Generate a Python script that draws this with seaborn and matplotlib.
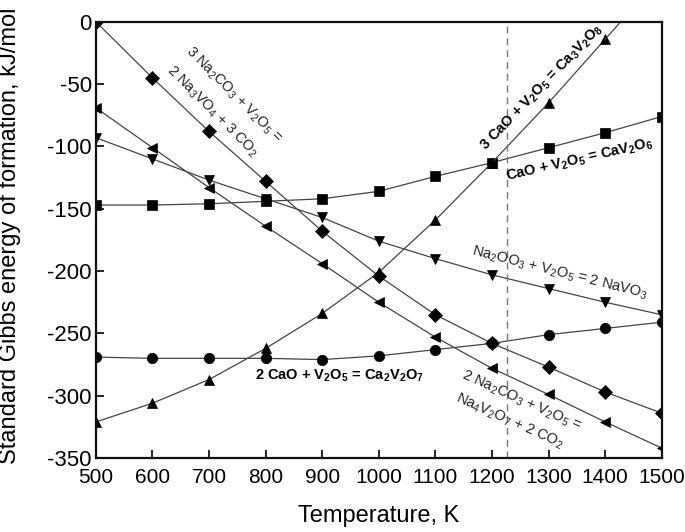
import numpy as np
import pandas as pd
import matplotlib as mpl
mpl.use('Agg')
import matplotlib.pyplot as plt
import seaborn as sns

# temperatures, K
temps = [500, 600, 700, 800, 900, 1000, 1100, 1200, 1300, 1400, 1500]

# Gibbs energies, kJ/mol
na3vo4 = [0, -45, -88, -128, -168, -204, -235, -258, -277, -297, -314]
na4v2o7 = [-69, -101, -133, -164, -194, -225, -253, -278, -299, -321, -342]
navo3 = [-93, -110, -127, -142, -157, -176, -190, -203, -214, -225, -235]
cav2o6 = [-147, -147, -146, -144, -142, -136, -124, -113, -101, -89, -76]
ca3v2o8 = [-321, -306, -287, -262, -234, -201, -159, -113, -65, -14, None]
ca2v2o7 = [-269, -270, -270, -270, -271, -268, -263, -258, -251, -246, -241]

series = {
    'na3vo4': na3vo4,
    'na4v2o7': na4v2o7,
    'navo3': navo3,
    'cav2o6': cav2o6,
    'ca3v2o8': ca3v2o8,
    'ca2v2o7': ca2v2o7,
}
markers = {'na3vo4': 'D', 'na4v2o7': '<', 'navo3': 'v',
           'cav2o6': 's', 'ca3v2o8': '^', 'ca2v2o7': 'o'}

t_limit = 1226  # dashed line

rows = []
for name, vals in series.items():
    for t, v in zip(temps, vals):
        if v is not None:
            rows.append([name, t, v])
df = pd.DataFrame(rows, columns=['reaction', 'T', 'G'])

sns.set_style('ticks')
plt.rcParams['font.family'] = ['Liberation Sans', 'DejaVu Sans']
plt.rcParams['mathtext.fontset'] = 'custom'
plt.rcParams['mathtext.rm'] = 'Liberation Sans'
plt.rcParams['mathtext.bf'] = 'Liberation Sans:bold'
plt.rcParams['mathtext.default'] = 'regular'
plt.rcParams['axes.unicode_minus'] = False
plt.rcParams['text.color'] = 'black'
plt.rcParams['axes.labelcolor'] = 'black'
plt.rcParams['xtick.color'] = 'black'
plt.rcParams['ytick.color'] = 'black'

fig = plt.figure(figsize=(6.85, 5.32), dpi=100)
ax = fig.add_axes([0.140, 0.139, 0.826, 0.820])

line_col = '#444444'
sns.lineplot(data=df, x='T', y='G', hue='reaction', style='reaction',
             palette={k: line_col for k in series}, markers=markers,
             dashes=False, legend=False, ax=ax, linewidth=0.9,
             markersize=7.5, markerfacecolor='black', markeredgecolor='black',
             markeredgewidth=0.5)

# the Ca3V2O8 line keeps going up past the last point
ct = [t for t, v in zip(temps, ca3v2o8) if v is not None]
cv = [v for v in ca3v2o8 if v is not None]
slope = (cv[-1] - cv[-2]) / (ct[-1] - ct[-2])
ax.plot([ct[-1], ct[-1] + 100], [cv[-1], cv[-1] + slope * 100],
        color=line_col, lw=0.9)

ax.axvline(t_limit, color='#777777', lw=1, ls=(0, (5, 3.5)))

ax.set_xlim(500, 1500)
ax.set_ylim(-350, 0)
ax.set_xticks(range(500, 1501, 100))
ax.set_yticks(range(-350, 1, 50))
ax.tick_params(direction='in', length=6, width=1.2, labelsize=15,
               top=False, right=False)
ax.tick_params(axis='x', pad=7)
ax.tick_params(axis='y', pad=3, labelsize=16)
for s in ax.spines.values():
    s.set_linewidth(1.6)
    s.set_color('#111111')

ax.set_xlabel('Temperature, K', fontsize=17, labelpad=13)
ax.set_ylabel('Standard Gibbs energy of formation, kJ/mol', fontsize=17)
ax.yaxis.set_label_coords(-0.133, 0.51)

fs = 10.5
ax.text(0.244, 0.833, '3 Na$_2$CO$_3$ + V$_2$O$_5$ =', transform=ax.transAxes,
        rotation=-45, fontsize=fs, ha='center', va='center',
        rotation_mode='anchor', color='#222222')
ax.text(0.205, 0.794, '2 Na$_3$VO$_4$ + 3 CO$_2$', transform=ax.transAxes,
        rotation=-45, fontsize=fs, ha='center', va='center',
        rotation_mode='anchor', color='#222222')
ax.text(0.788, 0.849, r'3 CaO + V$_2$O$_5$ = Ca$_3$V$_2$O$_8$',
        transform=ax.transAxes, rotation=46, fontsize=fs, ha='center',
        va='center', rotation_mode='anchor', fontweight='bold')
ax.text(0.855, 0.683, r'CaO + V$_2$O$_5$ = CaV$_2$O$_6$',
        transform=ax.transAxes, rotation=13, fontsize=fs, ha='center',
        va='center', rotation_mode='anchor', fontweight='bold')
ax.text(0.820, 0.424, 'Na$_2$OO$_3$ + V$_2$O$_5$ = 2 NaVO$_3$',
        transform=ax.transAxes, rotation=-14, fontsize=fs, ha='center',
        va='center', rotation_mode='anchor', color='#222222')
ax.text(0.431, 0.188, r'2 CaO + V$_2$O$_5$ = Ca$_2$V$_2$O$_7$',
        transform=ax.transAxes, fontsize=fs, ha='center', va='center',
        fontweight='bold')
ax.text(0.753, 0.131, '2 Na$_2$CO$_3$ + V$_2$O$_5$ =', transform=ax.transAxes,
        rotation=-24, fontsize=fs, ha='center', va='center',
        rotation_mode='anchor', color='#222222')
ax.text(0.731, 0.085, 'Na$_4$V$_2$O$_7$ + 2 CO$_2$', transform=ax.transAxes,
        rotation=-24, fontsize=fs, ha='center', va='center',
        rotation_mode='anchor', color='#222222')

fig.savefig('out.png', dpi=100)
